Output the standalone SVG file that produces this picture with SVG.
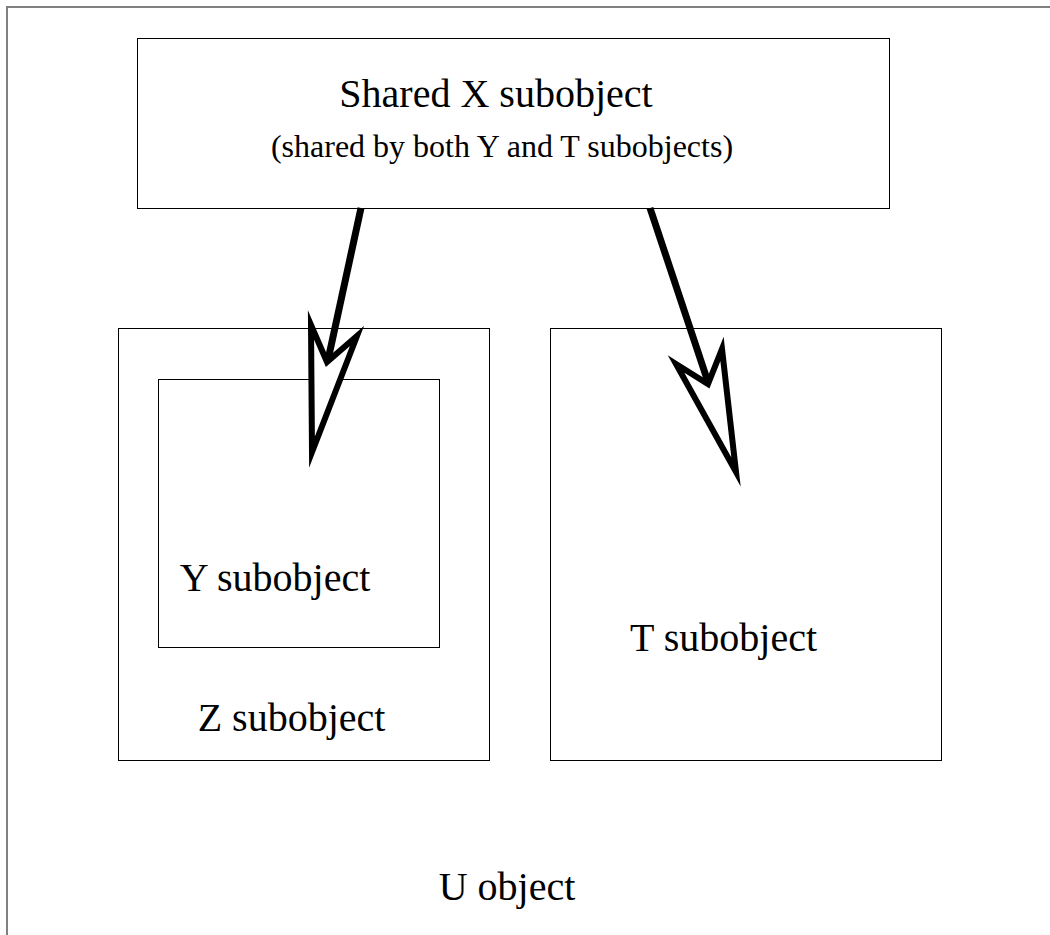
<svg xmlns="http://www.w3.org/2000/svg" width="1050" height="935" viewBox="0 0 1050 935">
  <style>
    .box { fill: #ffffff; stroke: #000000; stroke-width: 1; }
    .outer { fill: none; stroke: #808080; stroke-width: 2; }
    .label { font-family: "Liberation Serif", "Times New Roman", serif; fill: #000000; }
    .big { font-size: 40px; }
    .small { font-size: 32px; }
    .shaft { stroke: #000000; stroke-width: 7; fill: none; }
    .head { fill: #ffffff; stroke: #000000; stroke-width: 6; stroke-linejoin: miter; stroke-miterlimit: 10; }
  </style>
  <rect width="1050" height="935" fill="#ffffff"/>

  <g id="u-object">
    <rect class="outer" x="7" y="7" width="1100" height="1000"/>
    <text class="label big" x="507" y="900" text-anchor="middle">U object</text>
  </g>

  <g id="shared-x">
    <rect class="box" x="137.5" y="38.5" width="752" height="170"/>
    <text class="label big" x="496" y="107" text-anchor="middle">Shared X subobject</text>
    <text class="label small" x="502" y="157" text-anchor="middle">(shared by both Y and T subobjects)</text>
  </g>

  <g id="z-subobject">
    <rect class="box" x="118.5" y="328.5" width="371" height="432"/>
    <text class="label big" x="291.5" y="731" text-anchor="middle">Z subobject</text>
  </g>

  <g id="y-subobject">
    <rect class="box" x="158.5" y="379.5" width="281" height="268"/>
    <text class="label big" x="275" y="591" text-anchor="middle">Y subobject</text>
  </g>

  <g id="t-subobject">
    <rect class="box" x="550.5" y="328.5" width="391" height="432"/>
    <text class="label big" x="723.5" y="651" text-anchor="middle">T subobject</text>
  </g>

  <g id="connectors">
    <line class="shaft" x1="361" y1="208" x2="328" y2="360"/>
    <polygon class="head" points="311,325 327,362 357,336 312,452"/>
    <line class="shaft" x1="650" y1="208" x2="708" y2="382"/>
    <polygon class="head" points="676,364 708,384 722,349 736,472"/>
  </g>
</svg>
